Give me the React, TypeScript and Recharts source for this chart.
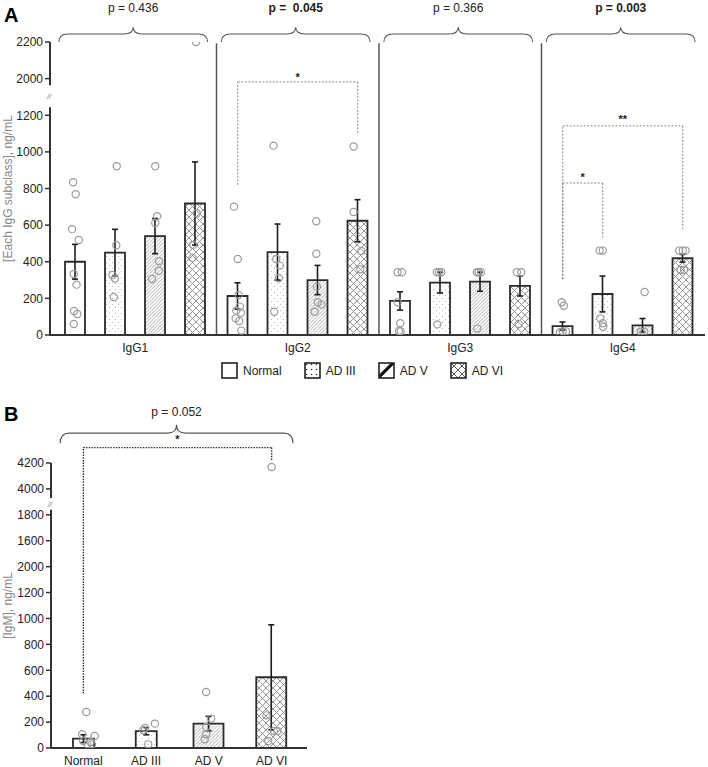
import React from 'react';
import {
  ComposedChart,
  Bar,
  XAxis,
  YAxis,
  Scatter,
  ErrorBar,
  ReferenceLine,
  ReferenceArea,
  ReferenceDot,
  Legend,
  Cell,
} from 'recharts';

const FONT = '"Liberation Sans", Arial, Helvetica, sans-serif';

// ---------- Panel A: IgG subclasses (ng/mL) ----------
const subclasses = ['IgG1', 'IgG2', 'IgG3', 'IgG4'];
const groups = ['Normal', 'AD III', 'AD V', 'AD VI'];

const normalMean = [400, 213, 186, 49];
const normalSem = [95, 72, 50, 22];
const ad3Mean = [450, 453, 286, 224];
const ad3Sem = [127, 153, 57, 98];
const ad5Mean = [540, 300, 291, 53];
const ad5Sem = [96, 80, 52, 37];
const ad6Mean = [718, 624, 268, 419];
const ad6Sem = [227, 115, 55, 21];

// single samples: [ng/mL, horizontal jitter in bar widths], one list per group
const igg1Points = [
  [[834, -0.1], [769, 0.02], [578, -0.15], [519, 0.17], [333, -0.07], [275, 0.06], [131, -0.06], [115, 0.1], [60, -0.07]],
  [[922, 0.07], [490, 0.05], [328, -0.13], [308, -0.02], [208, -0.07]],
  [[922, 0], [649, 0.09], [612, 0], [403, 0.18], [351, 0.17], [306, -0.15]],
  [[2200, 0.04], [665, 0.07], [492, -0.1], [421, -0.13]],
];
const igg2Points = [
  [[701, -0.18], [415, 0], [218, 0.04], [155, 0.1], [133, -0.07], [122, 0.15], [91, -0.1], [76, 0.07], [24, 0.17]],
  [[1034, -0.2], [415, -0.07], [379, 0.1], [310, 0.05], [127, -0.17]],
  [[621, -0.07], [444, -0.07], [264, -0.04], [179, 0], [166, 0.18], [127, -0.15]],
  [[1029, -0.2], [672, -0.2], [459, 0.17], [359, 0.12]],
];
const igg3Points = [
  [[343, -0.13], [343, 0.08], [179, -0.13], [64, 0], [22, -0.06], [20, 0.02]],
  [[343, -0.16], [343, -0.05], [343, 0.05], [58, -0.14]],
  [[343, -0.16], [343, -0.08], [343, 0.03], [35, -0.14]],
  [[343, -0.16], [343, 0.05], [60, -0.08]],
];
const igg4Points = [
  [[179, -0.05], [160, 0.05], [20, 0], [20, 0.16], [15, -0.13]],
  [[461, -0.15], [461, 0], [91, -0.12], [64, 0], [45, 0.02]],
  [[235, 0.09], [18, -0.09], [18, 0.07]],
  [[461, -0.17], [461, 0], [461, 0.14], [355, -0.1], [355, 0.06]],
];

const pLabelsA = ['p = 0.436', 'p =  0.045', 'p = 0.366', 'p = 0.003'];
const pBoldA = [false, true, false, true];
const yTickLabelsA = ['0', '200', '400', '600', '800', '1000', '1200', '2000', '2200'];

// ---------- Panel B: IgM (ng/mL) ----------
const igmMean = [72, 130, 188, 546];
const igmSem = [30, 28, 56, 405];
const igmPoints = [
  [[278, 0.14], [106, -0.06], [93, 0.54], [54, -0.01], [46, 0.34], [28, 0.2], [28, 0.41]],
  [[188, 0.42], [154, -0.06], [137, -0.13], [28, 0.1]],
  [[432, -0.13], [227, 0.11], [162, -0.13], [106, -0.13], [67, -0.2]],
  [[4169, 0], [252, -0.25], [131, 0.11], [131, 0.27], [54, -0.16]],
];
const yTickLabelsB = ['0', '200', '400', '600', '800', '1000', '1200', '2000', '1600', '1800', '4000', '4200'];

// broken axes: values above the break are shifted down onto the display scale
const toDisplayA = (v: number) => (v <= 1200 ? v : v - 600);
const toDisplayB = (v: number) => (v <= 1800 ? v : v - 2000);

// ---------- layout ----------
const BAND_A = 162.5;
const STEP_A = 40;
const BAR_A = 20;
const BAND_B = 62.75;
const slotA = (k: number, j: number) => k + 0.5 + ((j - 1.5) * STEP_A) / BAND_A;

const fills = ['#ffffff', 'url(#patDots)', 'url(#patDiag)', 'url(#patCross)'];
const legendFills = ['#ffffff', 'url(#lgDots)', 'url(#lgDiag)', 'url(#lgCross)'];
const seriesKeys = ['normal', 'ad3', 'ad5', 'ad6'];

const tableA = subclasses.map((name, k) => ({
  name,
  normal: toDisplayA(normalMean[k]),
  normalErr: normalSem[k],
  ad3: toDisplayA(ad3Mean[k]),
  ad3Err: ad3Sem[k],
  ad5: toDisplayA(ad5Mean[k]),
  ad5Err: ad5Sem[k],
  ad6: toDisplayA(ad6Mean[k]),
  ad6Err: ad6Sem[k],
}));

const pointsA = [igg1Points, igg2Points, igg3Points, igg4Points].flatMap((sub, k) =>
  sub.flatMap((list, j) =>
    list.map(([v, jit]) => ({ x: slotA(k, j) + (jit * 21) / BAND_A, y: toDisplayA(v) })),
  ),
);

const WIDE = ['AD V', 'AD VI'];
const tableB = groups.map((name, i) => {
  const wide = WIDE.includes(name);
  return {
    name,
    narrow: wide ? null : igmMean[i],
    narrowErr: wide ? null : igmSem[i],
    wide: wide ? igmMean[i] : null,
    wideErr: wide ? igmSem[i] : null,
  };
});

const pointsB = igmPoints.flatMap((list, i) =>
  list.map(([v, jit]) => ({ x: i + 0.5 + (jit * 21) / BAND_B, y: toDisplayB(v) })),
);

// significance brackets (display units)
const bracketsA = [
  { sub: 1, from: 0, to: 3, top: 1382, legFrom: 820, legTo: 1098, mark: '*', markY: 1418 },
  { sub: 3, from: 0, to: 3, top: 1142, legFrom: 304, legTo: 578, mark: '**', markY: 1190 },
  { sub: 3, from: 0, to: 1, top: 830, legFrom: 304, legTo: 532, mark: '*', markY: 873 },
];

const tickStyle = { fontSize: 12, fill: '#222', fontFamily: FONT };

function bracePath(x: number, y: number, w: number, h: number) {
  const x2 = x + w;
  const cx = x + w / 2;
  const yb = y + h;
  const ym = y + h * 0.45;
  const r = 9;
  return `M${x},${yb} Q${x},${ym} ${x + r},${ym} L${cx - r},${ym} Q${cx},${ym} ${cx},${y} Q${cx},${ym} ${cx + r},${ym} L${x2 - r},${ym} Q${x2},${ym} ${x2},${yb}`;
}

function braceShape(text: string, bold: boolean, gap: number) {
  return (p: any) => (
    <g>
      <path d={bracePath(p.x, p.y, p.width, p.height)} fill="none" stroke="#555" strokeWidth={1.1} />
      <text
        x={p.x + p.width / 2}
        y={p.y - gap}
        textAnchor="middle"
        fontSize={12}
        fontFamily={FONT}
        fontWeight={bold ? 'bold' : 'normal'}
        fill="#222"
        style={{ whiteSpace: 'pre' }}
      >
        {text}
      </text>
    </g>
  );
}

const axisSeg = (p: any) => (
  <line x1={p.x} x2={p.x} y1={p.y} y2={p.y + p.height} stroke="#333" strokeWidth={2} />
);
const breakMark = (p: any) => (
  <text x={p.x - 1} y={p.y + p.height / 2 + 3} textAnchor="middle" fontSize={7} fontStyle="italic" fill="#666" fontFamily={FONT}>
    //
  </text>
);
const starShape = (mark: string) => (p: any) => (
  <text x={p.cx} y={p.cy + 6} textAnchor="middle" fontSize={11} fontWeight="bold" fill="#222" fontFamily={FONT}>
    {mark}
  </text>
);
const dotShape = (p: any) => (
  <circle cx={p.cx} cy={p.cy} r={3.6} fill="none" stroke="#9a9a9a" strokeWidth={1.2} />
);

function Patterns() {
  return (
    <svg width={0} height={0} style={{ position: 'absolute' }}>
      <defs>
        <pattern id="patDots" patternUnits="userSpaceOnUse" width={6} height={6}>
          <circle cx={1.5} cy={1.5} r={0.6} fill="#b0b0b0" />
          <circle cx={4.5} cy={4.5} r={0.6} fill="#b0b0b0" />
        </pattern>
        <pattern id="patDiag" patternUnits="userSpaceOnUse" width={3.5} height={3.5}>
          <path d="M-1,1 L1,-1 M0,3.5 L3.5,0 M2.5,4.5 L4.5,2.5" stroke="#9a9a9a" strokeWidth={0.8} />
        </pattern>
        <pattern id="patCross" patternUnits="userSpaceOnUse" width={7} height={7}>
          <path d="M0,0 L7,7 M7,0 L0,7" stroke="#8a8a8a" strokeWidth={0.9} />
        </pattern>
        <pattern id="lgDots" patternUnits="userSpaceOnUse" width={5} height={5}>
          <circle cx={2.5} cy={2.5} r={0.8} fill="#333" />
        </pattern>
        <pattern id="lgDiag" patternUnits="userSpaceOnUse" width={16} height={16}>
          <path d="M1,15 L15,1" stroke="#111" strokeWidth={3.2} />
        </pattern>
        <pattern id="lgCross" patternUnits="userSpaceOnUse" width={8} height={8}>
          <path d="M0,0 L8,8 M8,0 L0,8" stroke="#444" strokeWidth={0.9} />
        </pattern>
      </defs>
    </svg>
  );
}

function LegendRow() {
  return (
    <div style={{ display: 'flex', alignItems: 'center', fontFamily: FONT, fontSize: 12, color: '#222' }}>
      {groups.map((g, i) => (
        <div key={g} style={{ display: 'flex', alignItems: 'center', marginRight: 22 }}>
          <svg width={17} height={17} style={{ marginRight: 5 }}>
            <rect x={1} y={1} width={15} height={15} fill={legendFills[i]} stroke="#222" strokeWidth={1.6} />
          </svg>
          <span>{g}</span>
        </div>
      ))}
    </div>
  );
}

function PanelA() {
  return (
    <ComposedChart
      width={708}
      height={380}
      data={tableA}
      margin={{ top: 42, right: 3, bottom: 25, left: 0 }}
      barGap={STEP_A - BAR_A}
    >
      <XAxis
        dataKey="name"
        height={20}
        interval={0}
        padding={{ left: 4, right: 1 }}
        tickLine={false}
        axisLine={{ stroke: '#333', strokeWidth: 2 }}
        tick={tickStyle}
      />
      <XAxis xAxisId="pts" type="number" dataKey="x" domain={[0, 4]} padding={{ left: 4, right: 1 }} hide allowDataOverflow />
      <XAxis xAxisId="frame" type="number" domain={[0, 1]} hide />
      <YAxis
        width={50}
        domain={[0, 1600]}
        ticks={yTickLabelsA.map((_, i) => i * 200)}
        tickFormatter={(v: number) => yTickLabelsA[Math.round(v / 200)]}
        allowDataOverflow
        axisLine={false}
        tickLine={{ stroke: '#333', strokeWidth: 1.5 }}
        tickSize={5}
        tickMargin={2}
        tick={tickStyle}
        label={{
          value: '[Each IgG subclass], ng/mL',
          angle: -90,
          position: 'insideLeft',
          offset: 8,
          style: { textAnchor: 'middle', fill: '#888', fontSize: 12, fontFamily: FONT },
        }}
      />
      {seriesKeys.map((key, j) => (
        <Bar
          key={key}
          dataKey={key}
          barSize={BAR_A}
          fill={fills[j]}
          stroke="#2b2b2b"
          strokeWidth={1.8}
          isAnimationActive={false}
        >
          <ErrorBar dataKey={`${key}Err`} width={3} stroke="#1e1e1e" strokeWidth={1.6} />
        </Bar>
      ))}
      <Scatter xAxisId="pts" data={pointsA} dataKey="y" shape={dotShape} isAnimationActive={false} />

      {/* broken y axis */}
      <ReferenceArea xAxisId="frame" y1={0} y2={1244} ifOverflow="visible" shape={axisSeg} />
      <ReferenceArea xAxisId="frame" y1={1364} y2={1600} ifOverflow="visible" shape={axisSeg} />
      <ReferenceArea xAxisId="frame" y1={1244} y2={1364} ifOverflow="visible" shape={breakMark} />

      {/* panel separators */}
      {[1, 2, 3].map((k) => (
        <ReferenceLine
          key={k}
          xAxisId="pts"
          segment={[{ x: k, y: 0 }, { x: k, y: 1593 }]}
          stroke="#555"
          strokeWidth={1.5}
          ifOverflow="visible"
        />
      ))}

      {/* braces with omnibus p values */}
      {subclasses.map((s, k) => (
        <ReferenceArea
          key={s}
          xAxisId="pts"
          x1={k + 0.03}
          x2={k + 0.945}
          y1={1600}
          y2={1680}
          ifOverflow="visible"
          shape={braceShape(pLabelsA[k], pBoldA[k], 15)}
        />
      ))}

      {/* pairwise brackets */}
      {bracketsA.map((b, i) => {
        const xa = slotA(b.sub, b.from);
        const xb = slotA(b.sub, b.to);
        const common = { xAxisId: 'pts', stroke: '#888', strokeWidth: 1, strokeDasharray: '2 1.5', ifOverflow: 'visible' as const };
        return (
          <React.Fragment key={i}>
            <ReferenceLine {...common} segment={[{ x: xa, y: b.legFrom }, { x: xa, y: b.top }]} />
            <ReferenceLine {...common} segment={[{ x: xa, y: b.top }, { x: xb, y: b.top }]} />
            <ReferenceLine {...common} segment={[{ x: xb, y: b.top }, { x: xb, y: b.legTo }]} />
            <ReferenceDot xAxisId="pts" x={(xa + xb) / 2} y={b.markY} r={0} ifOverflow="visible" shape={starShape(b.mark)} />
          </React.Fragment>
        );
      })}

      <Legend
        verticalAlign="middle"
        align="center"
        layout="horizontal"
        wrapperStyle={{ top: 362, left: 221, width: 330, height: 17 }}
        content={() => <LegendRow />}
      />
    </ComposedChart>
  );
}

function PanelB() {
  return (
    <ComposedChart
      width={320}
      height={387}
      data={tableB}
      margin={{ top: 83, right: 13, bottom: 0, left: 0 }}
    >
      <XAxis
        dataKey="name"
        height={19}
        interval={0}
        padding={{ left: 1, right: 4 }}
        tickLine={false}
        axisLine={{ stroke: '#333', strokeWidth: 2 }}
        tick={tickStyle}
      />
      <XAxis xAxisId="wide" dataKey="name" padding={{ left: 1, right: 4 }} hide />
      <XAxis xAxisId="pts" type="number" dataKey="x" domain={[0, 4]} padding={{ left: 1, right: 4 }} hide allowDataOverflow />
      <XAxis xAxisId="frame" type="number" domain={[0, 1]} hide />
      <YAxis
        width={51}
        domain={[0, 2200]}
        ticks={yTickLabelsB.map((_, i) => i * 200)}
        tickFormatter={(v: number) => yTickLabelsB[Math.round(v / 200)]}
        allowDataOverflow
        axisLine={false}
        tickLine={{ stroke: '#333', strokeWidth: 1.5 }}
        tickSize={5}
        tickMargin={2}
        tick={tickStyle}
        label={{
          value: '[IgM], ng/mL',
          angle: -90,
          position: 'insideLeft',
          offset: 8,
          style: { textAnchor: 'middle', fill: '#888', fontSize: 12, fontFamily: FONT },
        }}
      />
      <Bar dataKey="narrow" barSize={21} stroke="#2b2b2b" strokeWidth={1.8} isAnimationActive={false}>
        {tableB.map((r, i) => (
          <Cell key={r.name} fill={fills[i]} stroke={r.narrow == null ? 'none' : '#2b2b2b'} />
        ))}
        <ErrorBar dataKey="narrowErr" width={3} stroke="#1e1e1e" strokeWidth={1.6} />
      </Bar>
      <Bar dataKey="wide" xAxisId="wide" barSize={30} stroke="#2b2b2b" strokeWidth={1.8} isAnimationActive={false}>
        {tableB.map((r, i) => (
          <Cell key={r.name} fill={fills[i]} stroke={r.wide == null ? 'none' : '#2b2b2b'} />
        ))}
        <ErrorBar dataKey="wideErr" width={3} stroke="#1e1e1e" strokeWidth={1.6} />
      </Bar>
      <Scatter xAxisId="pts" data={pointsB} dataKey="y" shape={dotShape} isAnimationActive={false} />

      <ReferenceArea xAxisId="frame" y1={0} y2={1840} ifOverflow="visible" shape={axisSeg} />
      <ReferenceArea xAxisId="frame" y1={1930} y2={2200} ifOverflow="visible" shape={axisSeg} />
      <ReferenceArea xAxisId="frame" y1={1840} y2={1930} ifOverflow="visible" shape={breakMark} />

      <ReferenceArea
        xAxisId="pts"
        x1={0.13}
        x2={3.84}
        y1={2352}
        y2={2495}
        ifOverflow="visible"
        shape={braceShape('p = 0.052', false, 9)}
      />
      {(() => {
        const common = { xAxisId: 'pts', stroke: '#333', strokeWidth: 1.4, strokeDasharray: '1.5 1.2', ifOverflow: 'visible' as const };
        return (
          <>
            <ReferenceLine {...common} segment={[{ x: 0.5, y: 420 }, { x: 0.5, y: 2319 }]} />
            <ReferenceLine {...common} segment={[{ x: 0.5, y: 2319 }, { x: 3.5, y: 2319 }]} />
            <ReferenceLine {...common} segment={[{ x: 3.5, y: 2319 }, { x: 3.5, y: 2221 }]} />
            <ReferenceDot xAxisId="pts" x={2} y={2399} r={0} ifOverflow="visible" shape={starShape('*')} />
          </>
        );
      })()}
    </ComposedChart>
  );
}

export default function App() {
  return (
    <div style={{ position: 'absolute', left: 0, top: 0, width: 708, height: 767, background: '#fff', fontFamily: FONT }}>
      <Patterns />
      <div style={{ position: 'absolute', left: 0, top: 0 }}>
        <PanelA />
      </div>
      <div style={{ position: 'absolute', left: 0, top: 380 }}>
        <PanelB />
      </div>
      <div style={{ position: 'absolute', left: 4, top: 5, fontSize: 20, fontWeight: 'bold', lineHeight: '20px' }}>A</div>
      <div style={{ position: 'absolute', left: 4, top: 404, fontSize: 20, fontWeight: 'bold', lineHeight: '20px' }}>B</div>
    </div>
  );
}
